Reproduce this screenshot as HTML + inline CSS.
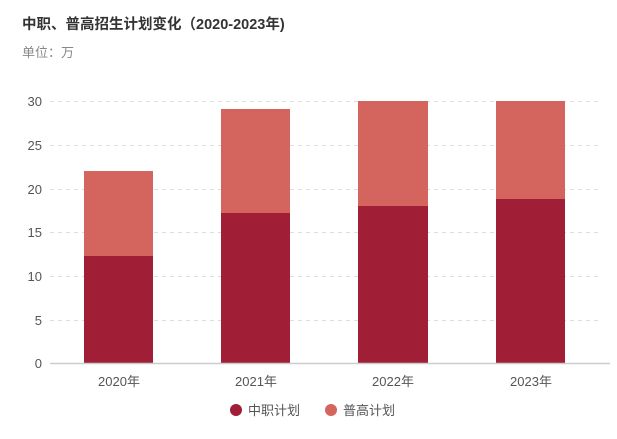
<!DOCTYPE html>
<html><head><meta charset="utf-8"><style>
body{margin:0;background:#fff;width:617px;height:434px;overflow:hidden}
text{font-family:"Liberation Sans","Noto Sans CJK SC",sans-serif}
</style></head><body>
<svg width="617" height="434" xmlns="http://www.w3.org/2000/svg">
<text x="22" y="29" font-size="14.5" font-weight="bold" fill="#333">中职、普高招生计划变化（2020-2023年)</text>
<text x="22" y="57" font-size="13" fill="#888">单位：万</text>
<g stroke="#ddd" stroke-dasharray="4,4" stroke-width="1">
<line x1="50" x2="600" y1="101.5" y2="101.5"/>
<line x1="50" x2="600" y1="145.5" y2="145.5"/>
<line x1="50" x2="600" y1="189.5" y2="189.5"/>
<line x1="50" x2="600" y1="232.5" y2="232.5"/>
<line x1="50" x2="600" y1="276.5" y2="276.5"/>
<line x1="50" x2="600" y1="320.5" y2="320.5"/>
</g>
<g font-size="13" fill="#555" text-anchor="end">
<text x="42" y="106">30</text><text x="42" y="150">25</text><text x="42" y="194">20</text>
<text x="42" y="237">15</text><text x="42" y="281">10</text><text x="42" y="325">5</text><text x="42" y="368">0</text>
</g>
<g fill="#d4645e">
<rect x="84" y="171" width="69" height="85"/>
<rect x="221" y="109" width="69" height="104"/>
<rect x="358" y="101" width="70" height="105"/>
<rect x="496" y="101" width="69" height="98"/>
</g>
<g fill="#a01e36">
<rect x="84" y="256" width="69" height="107"/>
<rect x="221" y="213" width="69" height="150"/>
<rect x="358" y="206" width="70" height="157"/>
<rect x="496" y="199" width="69" height="164"/>
</g>
<line x1="50" x2="610" y1="363.5" y2="363.5" stroke="#ccc" stroke-width="1.5"/>
<g font-size="13" fill="#555" text-anchor="middle">
<text x="119" y="386">2020年</text><text x="256" y="386">2021年</text>
<text x="393" y="386">2022年</text><text x="531" y="386">2023年</text>
</g>
<circle cx="236" cy="410" r="6" fill="#a01e36"/>
<text x="248" y="415" font-size="13" fill="#555">中职计划</text>
<circle cx="331" cy="410" r="6" fill="#d4645e"/>
<text x="343" y="415" font-size="13" fill="#555">普高计划</text>
</svg>
</body></html>
